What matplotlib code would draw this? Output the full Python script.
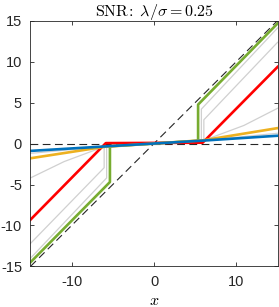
import matplotlib
matplotlib.use('Agg')
import matplotlib.pyplot as plt

plt.rcParams['font.family'] = ['Liberation Sans', 'DejaVu Sans']
plt.rcParams['mathtext.fontset'] = 'cm'
plt.rcParams['axes.unicode_minus'] = False

# identity and zero reference lines
ref_x = [-15, 15]
ref_y = [-15, 15]
zero_y = [0, 0]

# near-linear shrinkage (blue)
blue_x = [-15, -6, 6, 15]
blue_y = [-0.9, -0.36, 0.36, 0.95]

# mild shrinkage (orange)
orange_x = [-15, -6, 6, 15]
orange_y = [-1.8, -0.4, 0.4, 1.88]

# soft threshold (red)
red_x = [-15, -5.85, 5.9, 15]
red_y = [-9.3, 0.05, 0.1, 9.35]

# hard-ish threshold (green)
green_x = [-15, -5.35, -5.35, 5.35, 5.35, 15]
green_y = [-14.5, -4.7, -0.33, 0.33, 4.75, 14.65]

# intermediate estimators (gray)
gray_a_x = [-15, -5.75, -5.75, 5.75, 5.75, 15]
gray_a_y = [-14.0, -4.2, -0.35, 0.35, 4.2, 14.1]
gray_b_x = [-15, -6.05, -6.05, 6.05, 6.05, 15]
gray_b_y = [-12.2, -2.95, -0.37, 0.37, 2.9, 12.35]
gray_c_x = [-15, -10.9, -6.1, 6.1, 10.9, 15]
gray_c_y = [-4.2, -2.2, -0.4, 0.4, 2.2, 4.3]
gray_d_x = [-15, -6, 6, 15]
gray_d_y = [-1.2, -0.37, 0.37, 1.25]

fig = plt.figure(figsize=(2.79, 3.07), dpi=100)
ax = fig.add_axes([0.109, 0.132, 0.886, 0.801])

ax.plot(ref_x, ref_y, '--', color='#262626', lw=0.8, dashes=(7, 4))
ax.plot(ref_x, zero_y, '--', color='#262626', lw=0.8, dashes=(7, 4))

gray = '#d0d0d0'
for gx, gy in [(gray_a_x, gray_a_y), (gray_b_x, gray_b_y),
               (gray_c_x, gray_c_y), (gray_d_x, gray_d_y)]:
    ax.plot(gx, gy, color=gray, lw=0.9)

ax.plot(green_x, green_y, color='#77AC30', lw=1.9)
ax.plot(red_x, red_y, color='#FF0000', lw=1.9)
ax.plot(orange_x, orange_y, color='#EDB120', lw=1.9)
ax.plot(blue_x, blue_y, color='#0072BD', lw=1.9)

ax.set_xlim(-15, 15)
ax.set_ylim(-15, 15)
ax.set_xticks([-10, 0, 10])
ax.set_yticks([-15, -10, -5, 0, 5, 10, 15])
ax.tick_params(direction='in', top=True, right=True, labelsize=10.5,
               length=3, width=0.6, colors='#262626', pad=6)
for s in ax.spines.values():
    s.set_linewidth(0.6)
    s.set_color('#262626')

ax.set_title(r'$\mathrm{SNR}\!:\ \lambda/\sigma = 0.25$', fontsize=11.5, pad=3)
ax.set_xlabel(r'$x$', fontsize=11.5, labelpad=3)

fig.savefig('out.png', dpi=100)
